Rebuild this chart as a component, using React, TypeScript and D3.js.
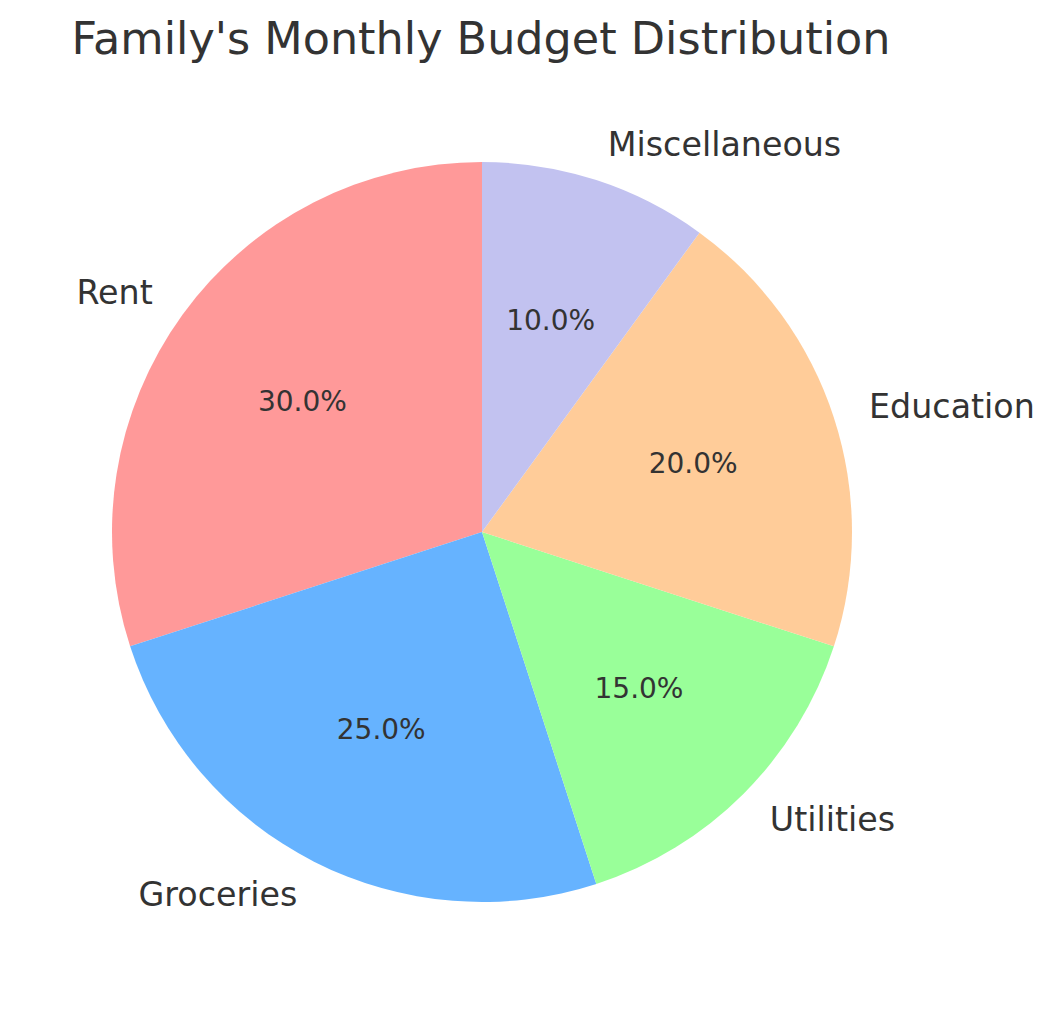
import React from "react";
import * as d3 from "d3";

const categories = ["Rent", "Groceries", "Utilities", "Education", "Miscellaneous"];
const values = [30, 25, 15, 20, 10];
const colors = ["#ff9999", "#66b3ff", "#99ff99", "#ffcc99", "#c2c2f0"];
const title = "Family's Monthly Budget Distribution";

export default function App() {
  const width = 1054;
  const height = 1014;
  const cx = 482;
  const cy = 532;
  const r = 370;
  const total = d3.sum(values);
  // matplotlib: start at 90deg, counterclockwise
  const pie = d3
    .pie<number>()
    .sort(null)
    .startAngle(0)
    .endAngle(-2 * Math.PI)(values);
  const arc = d3.arc<d3.PieArcDatum<number>>().innerRadius(0).outerRadius(r);
  const font = "DejaVu Sans, sans-serif";
  return (
    <svg width={width} height={height} style={{ position: "absolute", left: 0, top: 0, background: "#fff" }}>
      <text x={481} y={54} textAnchor="middle" fontFamily={font} fontSize={44.5} fill="#333333">
        {title}
      </text>
      <g transform={`translate(${cx},${cy})`}>
        {pie.map((d, i) => (
          <path key={i} d={arc(d) || ""} fill={colors[i]} />
        ))}
        {pie.map((d, i) => {
          const mid = (d.startAngle + d.endAngle) / 2;
          const sx = Math.sin(mid);
          const sy = -Math.cos(mid);
          const lx = sx * r * 1.1;
          const ly = sy * r * 1.1;
          const px = sx * r * 0.6;
          const py = sy * r * 0.6;
          return (
            <g key={"t" + i}>
              <text
                x={lx}
                y={ly}
                dy="0.34em"
                textAnchor={lx > 0 ? "start" : "end"}
                fontFamily={font}
                fontSize={33.3}
                fill="#333333"
              >
                {categories[i]}
              </text>
              <text x={px} y={py} dy="0.34em" textAnchor="middle" fontFamily={font} fontSize={28} fill="#333333">
                {((values[i] / total) * 100).toFixed(1) + "%"}
              </text>
            </g>
          );
        })}
      </g>
    </svg>
  );
}
